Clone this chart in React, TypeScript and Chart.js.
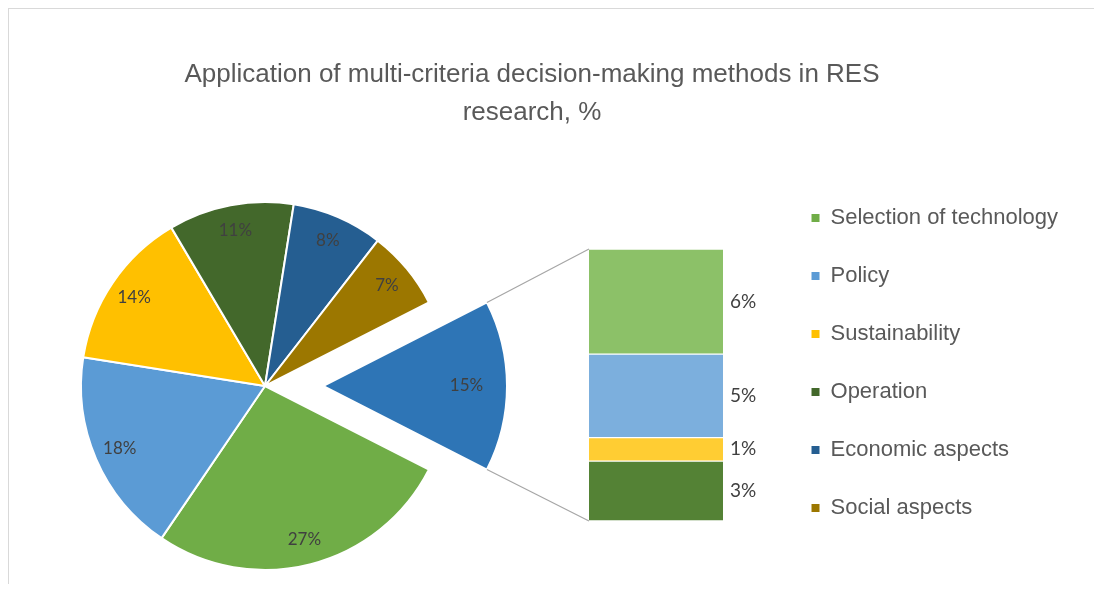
import React, { useEffect, useRef } from "react";
import { Chart, registerables } from "chart.js";

Chart.register(...registerables);

// ---------- data ----------
const pieCategories = [
  "Other",
  "Selection of technology",
  "Policy",
  "Sustainability",
  "Operation",
  "Economic aspects",
  "Social aspects",
];
const pieValues = [15, 27, 18, 14, 11, 8, 7];
const pieColors = ["#2e75b6", "#70ad47", "#5b9bd5", "#ffc000", "#43682b", "#255e91", "#9c7700"];

// stacked bar (top to bottom)
const barCategories = ["Selection of technology", "Policy", "Sustainability", "Operation"];
const barValues = [5.8, 4.6, 1.3, 3.3];
const barColors = ["#8cc168", "#7cafdd", "#ffcd33", "#548235"];

const legendLabels = [
  "Selection of technology",
  "Policy",
  "Sustainability",
  "Operation",
  "Economic aspects",
  "Social aspects",
];
const legendColors = ["#70ad47", "#5b9bd5", "#ffc000", "#43682b", "#255e91", "#9c7700"];

const titleLines = ["Application of multi-criteria decision-making methods in RES", "research, %"];

// ---------- layout / style ----------
const CANVAS_W = 1072;
const CANVAS_H = 575;
const CANVAS_LEFT = -13;
const EXPLODE_INDEX = 0;
const EXPLODE_PX = 58;
const PIE_RADIUS = 184;
const BAR_RIGHT = 727;
const TEXT_FAMILY = "'Liberation Sans', Arial, sans-serif";
const PIE_LABEL_FONT = "17px Lato, 'Liberation Sans', sans-serif";
const BAR_LABEL_FONT = "19px Lato, 'Liberation Sans', sans-serif";
const LABEL_COLOR = "#404040";
const TEXT_COLOR = "#595959";

export default function App() {
  const pieRef = useRef<HTMLCanvasElement>(null);
  const barRef = useRef<HTMLCanvasElement>(null);

  useEffect(() => {
    if (!pieRef.current || !barRef.current) return;
    const total = pieValues.reduce((a, b) => a + b, 0);
    const rotation = 90 - (pieValues[EXPLODE_INDEX] / total) * 180;

    const piePlugin = {
      id: "pieDecor",
      beforeDatasetDraw(chart: any, args: any) {
        const ctx = chart.ctx;
        args.meta.data.forEach((el: any, i: number) => {
          ctx.save();
          if (i === EXPLODE_INDEX) {
            const mid = (el.startAngle + el.endAngle) / 2;
            ctx.translate(Math.cos(mid) * EXPLODE_PX, Math.sin(mid) * EXPLODE_PX);
          }
          el.draw(ctx, chart.chartArea);
          ctx.restore();
        });
        return false;
      },
      afterDatasetsDraw(chart: any) {
        const ctx = chart.ctx;
        const meta = chart.getDatasetMeta(0);
        const data = chart.data.datasets[0].data;
        ctx.save();
        ctx.font = PIE_LABEL_FONT;
        ctx.fillStyle = LABEL_COLOR;
        ctx.textAlign = "center";
        ctx.textBaseline = "middle";
        meta.data.forEach((el: any, i: number) => {
          const mid = (el.startAngle + el.endAngle) / 2;
          const exploded = i === EXPLODE_INDEX;
          const r = el.outerRadius * (exploded ? 0.78 : 0.86) + (exploded ? EXPLODE_PX : 0);
          ctx.fillText(`${data[i]}%`, el.x + Math.cos(mid) * r, el.y + Math.sin(mid) * r);
        });
        ctx.restore();
      },
    };

    const pie = new Chart(pieRef.current, {
      type: "pie",
      data: {
        labels: pieCategories,
        datasets: [
          {
            data: pieValues,
            backgroundColor: pieColors,
            borderColor: "#ffffff",
            borderWidth: 2,
            rotation,
            radius: PIE_RADIUS,
          } as any,
        ],
      },
      options: {
        responsive: false,
        animation: false,
        events: [],
        layout: { padding: { left: 0, right: 534, top: 179, bottom: 0 } },
        plugins: { legend: { display: false }, tooltip: { enabled: false }, title: { display: false } },
      },
      plugins: [piePlugin],
    });

    const barPlugin = {
      id: "barDecor",
      afterDatasetsDraw(chart: any) {
        const ctx = chart.ctx;
        ctx.save();
        ctx.font = BAR_LABEL_FONT;
        ctx.fillStyle = LABEL_COLOR;
        ctx.textAlign = "left";
        ctx.textBaseline = "middle";
        chart.data.datasets.forEach((ds: any, di: number) => {
          const el: any = chart.getDatasetMeta(di).data[0];
          const v = ds.data[0];
          ctx.fillText(`${Math.round(v)}%`, el.x + el.width / 2 + 7, (el.y + el.base) / 2);
        });
        // connector lines from the exploded slice to the bar
        const arc: any = pie.getDatasetMeta(0).data[EXPLODE_INDEX];
        const mid = (arc.startAngle + arc.endAngle) / 2;
        const cx = arc.x + Math.cos(mid) * EXPLODE_PX;
        const cy = arc.y + Math.sin(mid) * EXPLODE_PX;
        const R = arc.outerRadius;
        const topEl: any = chart.getDatasetMeta(chart.data.datasets.length - 1).data[0];
        const botEl: any = chart.getDatasetMeta(0).data[0];
        const left = topEl.x - topEl.width / 2;
        ctx.strokeStyle = "#a6a6a6";
        ctx.lineWidth = 1.2;
        ctx.beginPath();
        ctx.moveTo(cx + Math.cos(arc.startAngle) * R, cy + Math.sin(arc.startAngle) * R);
        ctx.lineTo(left, topEl.y);
        ctx.moveTo(cx + Math.cos(arc.endAngle) * R, cy + Math.sin(arc.endAngle) * R);
        ctx.lineTo(left, botEl.base);
        ctx.stroke();
        ctx.restore();
      },
    };

    const barTotal = barValues.reduce((a, b) => a + b, 0);
    const datasets = barValues
      .map((v, i) => ({
        label: barCategories[i],
        data: [v],
        backgroundColor: barColors[i],
        borderColor: "#ffffff",
        borderWidth: { top: 1, bottom: 1, left: 0, right: 0 },
        borderSkipped: false,
        categoryPercentage: 1,
        barPercentage: 1,
      }))
      .reverse();

    const hidden = {
      grid: { display: false },
      ticks: { display: false },
      border: { display: false },
    };

    const bar = new Chart(barRef.current, {
      type: "bar",
      data: { labels: ["Other"], datasets: datasets as any },
      options: {
        responsive: false,
        animation: false,
        events: [],
        layout: { padding: { left: 0, right: 0, top: 0, bottom: 29 } },
        scales: {
          x: {
            stacked: true,
            display: true,
            ...hidden,
            afterFit: (s: any) => {
              s.height = 34;
            },
          },
          y: {
            stacked: true,
            min: 0,
            max: barTotal,
            display: true,
            position: "left",
            ...hidden,
            afterFit: (s: any) => {
              s.width = 593;
            },
          },
          ySpacer: {
            type: "linear",
            position: "right",
            display: true,
            ...hidden,
            afterFit: (s: any) => {
              const lg = s.chart.legend;
              const lw = lg && lg.width ? lg.width : 292;
              s.width = Math.max(0, CANVAS_W - BAR_RIGHT - lw);
            },
          },
        } as any,
        plugins: {
          tooltip: { enabled: false },
          title: {
            display: true,
            text: titleLines,
            color: TEXT_COLOR,
            font: { family: TEXT_FAMILY, size: 26, weight: "normal", lineHeight: 38 / 26 },
            padding: { top: 47, bottom: 117 },
          },
          legend: {
            display: true,
            position: "right",
            align: "end",
            maxWidth: 500,
            labels: {
              boxWidth: 8,
              boxHeight: 8,
              padding: 36,
              color: TEXT_COLOR,
              font: { family: TEXT_FAMILY, size: 22 },
              generateLabels: () =>
                legendLabels.map((t, i) => ({
                  text: t,
                  fillStyle: legendColors[i],
                  strokeStyle: legendColors[i],
                  fontColor: TEXT_COLOR,
                  lineWidth: 0,
                  hidden: false,
                  datasetIndex: i,
                })),
            },
          },
        } as any,
      },
      plugins: [barPlugin],
    });

    return () => {
      bar.destroy();
      pie.destroy();
    };
  }, []);

  const canvasStyle: React.CSSProperties = {
    position: "absolute",
    left: CANVAS_LEFT,
    top: 0,
    width: CANVAS_W,
    height: CANVAS_H,
  };

  return (
    <div
      style={{
        position: "relative",
        width: 1086,
        height: 576,
        boxSizing: "border-box",
        borderTop: "1px solid #d9d9d9",
        borderLeft: "1px solid #d9d9d9",
        overflow: "hidden",
        background: "#ffffff",
      }}
    >
      <canvas ref={pieRef} width={CANVAS_W} height={CANVAS_H} style={canvasStyle} />
      <canvas ref={barRef} width={CANVAS_W} height={CANVAS_H} style={canvasStyle} />
    </div>
  );
}
